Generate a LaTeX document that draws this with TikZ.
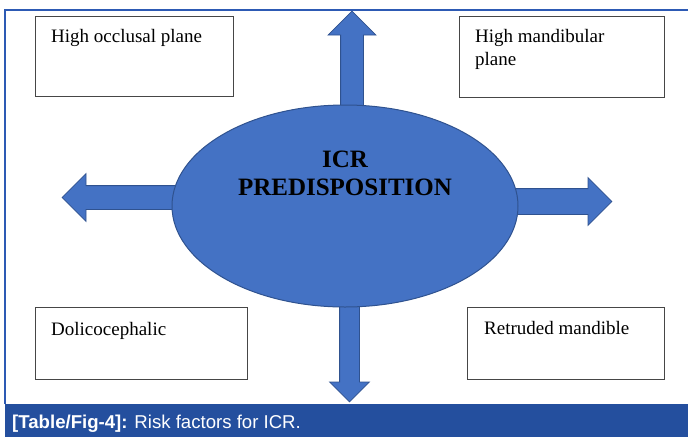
\documentclass[tikz,border=0pt]{standalone}
\usepackage{fontspec}
\setmainfont{Liberation Serif}
\newfontfamily\capfont{Liberation Sans}
\usetikzlibrary{positioning,shapes.geometric,shapes.arrows,backgrounds}
\definecolor{hubblue}{RGB}{68,114,196}
\definecolor{hubedge}{RGB}{47,82,143}
\definecolor{capblue}{RGB}{36,79,158}
\definecolor{frameblue}{RGB}{45,90,180}
\definecolor{boxgray}{RGB}{70,70,70}
\tikzset{
  hub/.style    = {ellipse, draw=hubedge, fill=hubblue, line width=1pt,
                   minimum width=346pt, minimum height=202pt, inner sep=0pt},
  hubtxt/.style = {font=\fontsize{25}{28}\selectfont\bfseries, align=center,
                   inner sep=0pt},
  blk/.style    = {single arrow, draw=hubedge, fill=hubblue, line width=0.8pt,
                   single arrow tip angle=90, anchor=tail},
  factor/.style = {draw=boxgray, line width=1.2pt, anchor=north west, inner sep=0pt},
  ftxt/.style   = {font=\fontsize{19}{23}\selectfont, align=left,
                   anchor=base west, inner sep=0pt},
  frame/.style  = {draw=frameblue, line width=1.2pt},
  capbar/.style = {fill=capblue, anchor=north west, inner sep=0pt,
                   minimum width=683pt, minimum height=33pt},
  captxt/.style = {font=\capfont\fontsize{18.6}{20}\selectfont, text=white,
                   anchor=base west, inner sep=0pt},
}

\begin{document}
\begin{tikzpicture}[x=1pt, y=-1pt]
  \useasboundingbox (0,0) rectangle (688,437);
  % frame and caption
  \draw[frame] (5,404) -- (5,10) -- (688,10);
  \node[capbar] (cap) at (5,404) {};
  \node[captxt] (capt) at (12,428) {\textbf{[Table/Fig-4]:} Risk factors for ICR.};
  % centre
  \node[hub] (hub) at (345,206) {};
  \node[hubtxt] (hubt) at ([yshift=33pt]hub.center) {ICR\\PREDISPOSITION};
  % arrows out of the centre
  \begin{scope}[on background layer]
    \node[blk, rotate=90, inner sep=11pt, single arrow head extend=12.5pt,
          minimum height=99pt] (up) at ([xshift=7pt,yshift=-6pt]hub.north) {};
    \node[blk, rotate=180, inner sep=11.5pt, single arrow head extend=12pt,
          minimum height=115pt] (lt) at ([xshift=6pt,yshift=8.5pt]hub.west) {};
    \node[blk, rotate=0, inner sep=12.5pt, single arrow head extend=11pt,
          minimum height=99pt] (rt) at ([xshift=-6pt,yshift=4.5pt]hub.east) {};
    \node[blk, rotate=-90, inner sep=9.5pt, single arrow head extend=10pt,
          minimum height=100pt] (dn) at ([xshift=4.5pt,yshift=6pt]hub.south) {};
  \end{scope}
  % risk factors
  \node[factor, minimum width=198pt, minimum height=80pt] (occl) at (35,16) {};
  \node[ftxt] (occl-t) at ([xshift=16pt,yshift=-26pt]occl.north west) {High occlusal plane};
  \node[factor, minimum width=205pt, minimum height=81pt] (mand) at (459,16) {};
  \node[ftxt] (mand-t) at ([xshift=16pt,yshift=-49pt]mand.north west) {High mandibular\\plane};
  \node[factor, minimum width=212pt, minimum height=72pt] (doli) at (35,307) {};
  \node[ftxt] (doli-t) at ([xshift=16pt,yshift=-28pt]doli.north west) {Dolicocephalic};
  \node[factor, minimum width=197pt, minimum height=72pt] (retr) at (467,307) {};
  \node[ftxt] (retr-t) at ([xshift=17pt,yshift=-27pt]retr.north west) {Retruded mandible};
\end{tikzpicture}
\end{document}
